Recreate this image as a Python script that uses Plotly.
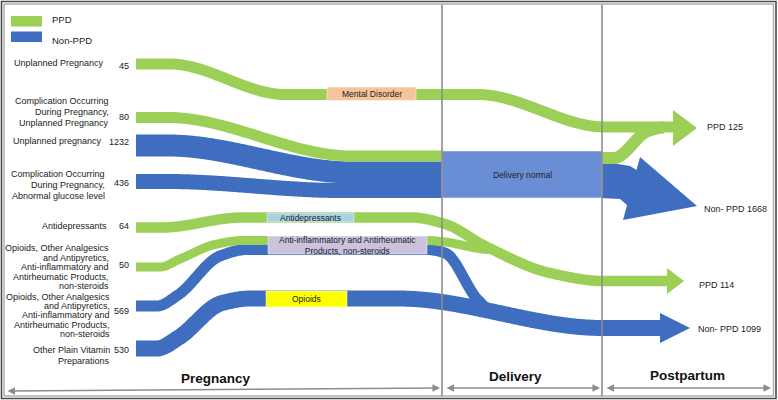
import numpy as np
import plotly.graph_objects as go

# ---------------- data ----------------
start_labels = [
    ["Unplanned Pregnancy"],
    ["Complication Occurring", "During Pregnancy,", "Unplanned Pregnancy"],
    ["Unplanned pregnancy"],
    ["Complication Occurring", "During Pregnancy,", "Abnormal glucose level"],
    ["Antidepressants"],
    ["Opioids, Other Analgesics", "and Antipyretics,", "Anti-inflammatory and",
     "Antirheumatic Products,", "non-steroids"],
    ["Opioids, Other Analgesics", "and Antipyretics,", "Anti-inflammatory and",
     "Antirheumatic Products,", "non-steroids"],
    ["Other Plain Vitamin", "Preparations"],
]
start_values = [45, 80, 1232, 436, 64, 50, 569, 530]
start_groups = ["PPD", "PPD", "Non-PPD", "Non-PPD", "PPD", "PPD", "Non-PPD", "Non-PPD"]

box_labels = ["Mental Disorder", "Delivery normal", "Antidepressants",
              "Anti-inflammatory and Antirheumatic<br>Products, non-steroids", "Opioids"]
outcome_labels = ["PPD", "Non- PPD", "PPD", "Non- PPD"]
outcome_values = [125, 1668, 114, 1099]
stage_labels = ["Pregnancy", "Delivery", "Postpartum"]
legend_labels = ["PPD", "Non-PPD"]

# ---------------- styling / geometry (pixel space) ----------------
GREEN = "#9BCF56"
BLUE = "#3F6EC0"
COLORS = {"PPD": GREEN, "Non-PPD": BLUE}
FONT = "Liberation Sans, Arial, sans-serif"

# centreline waypoints and stroke width for each starting flow
flow_paths = [
    [(136, 64), (170, 64), (285, 94.5), (478, 94.5), (605, 127), (676, 127)],
    [(136, 117.5), (168, 117.5), (352, 156), (444, 156)],
    [(136, 145.5), (168, 145.5), (352, 172.5), (444, 172.5)],
    [(136, 181.5), (168, 181.5), (340, 190.5), (444, 190.5)],
    [(136, 227.5), (162, 227.5), (242, 217.5), (412, 217.5), (445, 224),
     (485, 246), (550, 273), (603, 281), (670, 281)],
    [(136, 267), (160, 267), (180, 259), (215, 244.5), (242, 240.5),
     (427, 240.5), (445, 242), (490, 249.5)],
    [(136, 306), (157, 306), (178, 295), (220, 256), (247, 249.5),
     (427, 249.5), (445, 253), (478, 300), (492, 311)],
    [(136, 348.5), (157, 348.5), (178, 338), (222, 303), (250, 298.5),
     (398, 298.5), (603, 328), (663, 328)],
]
flow_widths = [11, 11, 22, 15, 10.5, 9, 11, 16]
branch_path = [(601, 158), (614, 158), (648, 131), (664, 127.5)]

label_right = [106, 111, 104, 107, 109, 111, 112, 112]
label_ys = [[63], [101, 112, 123], [141], [174, 185, 196], [226],
            [248, 258, 267, 277, 286], [297, 306, 315, 325, 334], [350, 361]]
value_ys = [66, 117, 142, 183, 226, 265, 311, 350]

boxes = [  # x0, y0, x1, y1, fill
    (327, 87, 416, 100.5, "#F4C49B"),
    (442, 151, 602, 198, "#6A8ED6"),
    (267, 213, 354, 222, "#A8D3E2"),
    (268, 236, 427, 254, "#CBC2DD"),
    (266, 291, 347, 307, "#FFFF00"),
]
box_text_y = [93.5, 175, 217.5, 245, 299]

heads = [
    ([673, 697, 673], [110, 128, 146], GREEN),
    ([600, 618, 630, 636.5, 640, 697, 623, 627, 620, 600],
     [164, 164, 166, 170, 157, 206, 220, 205, 199, 198], BLUE),
    ([667, 684, 667], [268, 281, 294], GREEN),
    ([660, 690, 660], [313, 328, 343], BLUE),
]
outcome_pos = [(705, 127), (702, 209), (697, 285), (696, 329)]
stage_pos = [(216, 378), (515, 376), (687, 375)]
stage_arrows = [((6, 391), (440, 388)), ((445, 388), (600, 388)), ((605, 388), (771, 388))]


def pchip(pts, step=1.0):
    xs = np.array([p[0] for p in pts], float)
    ys = np.array([p[1] for p in pts], float)
    h = np.diff(xs)
    d = np.diff(ys) / h
    m = np.zeros_like(xs)
    for k in range(1, len(xs) - 1):
        if d[k - 1] * d[k] > 0:
            w1 = 2 * h[k] + h[k - 1]
            w2 = h[k] + 2 * h[k - 1]
            m[k] = (w1 + w2) / (w1 / d[k - 1] + w2 / d[k])
    ox, oy = [], []
    for k in range(len(xs) - 1):
        n = max(2, int(h[k] / step))
        t = np.linspace(0, 1, n, endpoint=False)
        h00 = 2 * t**3 - 3 * t**2 + 1
        h10 = t**3 - 2 * t**2 + t
        h01 = -2 * t**3 + 3 * t**2
        h11 = t**3 - t**2
        ox.extend((xs[k] + t * h[k]).tolist())
        oy.extend((h00 * ys[k] + h10 * h[k] * m[k] + h01 * ys[k + 1]
                   + h11 * h[k] * m[k + 1]).tolist())
    ox.append(float(xs[-1]))
    oy.append(float(ys[-1]))
    return ox, oy


fig = go.Figure()

order = [i for i, g in enumerate(start_groups) if g == "Non-PPD"] + \
        [i for i, g in enumerate(start_groups) if g == "PPD"]
for i in order:
    x, y = pchip(flow_paths[i])
    fig.add_trace(go.Scatter(x=x, y=y, mode="lines",
                             line=dict(color=COLORS[start_groups[i]], width=flow_widths[i],
                                       simplify=False),
                             hoverinfo="skip", showlegend=False))
bx, by = pchip(branch_path)
fig.add_trace(go.Scatter(x=bx, y=by, mode="lines",
                         line=dict(color=GREEN, width=12, simplify=False),
                         hoverinfo="skip", showlegend=False))

for hx, hy, c in heads:
    fig.add_trace(go.Scatter(x=hx, y=hy, fill="toself", fillcolor=c, mode="lines",
                             line=dict(width=0, color=c), hoverinfo="skip", showlegend=False))

shapes = []
for (x0, y0, x1, y1, fc) in boxes:
    shapes.append(dict(type="rect", x0=x0, y0=y0, x1=x1, y1=y1, xref="x", yref="y",
                       fillcolor=fc, line=dict(width=0.6, color="rgba(255,255,255,0.8)"),
                       layer="above"))
for sx in (442, 602):
    shapes.append(dict(type="line", x0=sx, x1=sx, y0=4, y1=397, xref="x", yref="y",
                       line=dict(color="#8C8C8C", width=1.6), layer="above"))
shapes.append(dict(type="rect", x0=1.5, y0=1.5, x1=776, y1=398.5, xref="x", yref="y",
                   line=dict(color="#4A4A4A", width=1.6), layer="above"))
shapes.append(dict(type="rect", x0=4, y0=4, x1=773.5, y1=396, xref="x", yref="y",
                   line=dict(color="#B0B0B0", width=1.5), layer="above"))
for j, g in enumerate(legend_labels):
    yy = 16 + j * 15.5
    shapes.append(dict(type="rect", x0=11, x1=42, y0=yy, y1=yy + 10.5, xref="x", yref="y",
                       fillcolor=COLORS[g], line=dict(width=0), layer="above"))

ann = []
tf = dict(family=FONT, size=9, color="#1a1a1a")
for j, g in enumerate(legend_labels):
    ann.append(dict(x=50, y=19.5 + j * 20.5, text=g, showarrow=False, xanchor="left",
                    yanchor="middle", font=dict(family=FONT, size=9.5, color="#1a1a1a")))
for i, lines in enumerate(start_labels):
    for line, yy in zip(lines, label_ys[i]):
        ann.append(dict(x=label_right[i], y=yy, text=line, showarrow=False,
                        xanchor="right", yanchor="middle", font=tf))
    ann.append(dict(x=131, y=value_ys[i], text=str(start_values[i]), showarrow=False,
                    xanchor="right", yanchor="middle", font=tf))
for k, lab in enumerate(box_labels):
    x0, y0, x1, y1, _ = boxes[k]
    ann.append(dict(x=(x0 + x1) / 2, y=box_text_y[k], text=lab, showarrow=False,
                    xanchor="center", yanchor="middle",
                    font=dict(family=FONT, size=8.5, color="#222")))
for k, lab in enumerate(outcome_labels):
    ann.append(dict(x=outcome_pos[k][0], y=outcome_pos[k][1],
                    text=f"{lab} {outcome_values[k]}", showarrow=False,
                    xanchor="left", yanchor="middle", font=tf))
for k, lab in enumerate(stage_labels):
    ann.append(dict(x=stage_pos[k][0], y=stage_pos[k][1], text=f"<b>{lab}</b>",
                    showarrow=False, xanchor="center", yanchor="middle",
                    font=dict(family=FONT, size=13.5, color="#111")))
for (a, b) in stage_arrows:
    ann.append(dict(x=b[0], y=b[1], ax=a[0], ay=a[1], xref="x", yref="y", axref="x",
                    ayref="y", text="", showarrow=True, arrowhead=2, startarrowhead=2,
                    arrowside="end+start", arrowsize=1, startarrowsize=1, arrowwidth=1.5,
                    arrowcolor="#8C8C8C", standoff=0, startstandoff=0))

fig.update_layout(
    width=778, height=400,
    margin=dict(l=0, r=0, t=0, b=0),
    paper_bgcolor="white", plot_bgcolor="white",
    xaxis=dict(range=[0, 778], visible=False, fixedrange=True),
    yaxis=dict(range=[400, 0], visible=False, fixedrange=True),
    shapes=shapes, annotations=ann, showlegend=False,
)
fig.write_html("out.html", config={"displayModeBar": False},
               post_script="document.body.style.margin='0';document.body.style.overflow='hidden';")
